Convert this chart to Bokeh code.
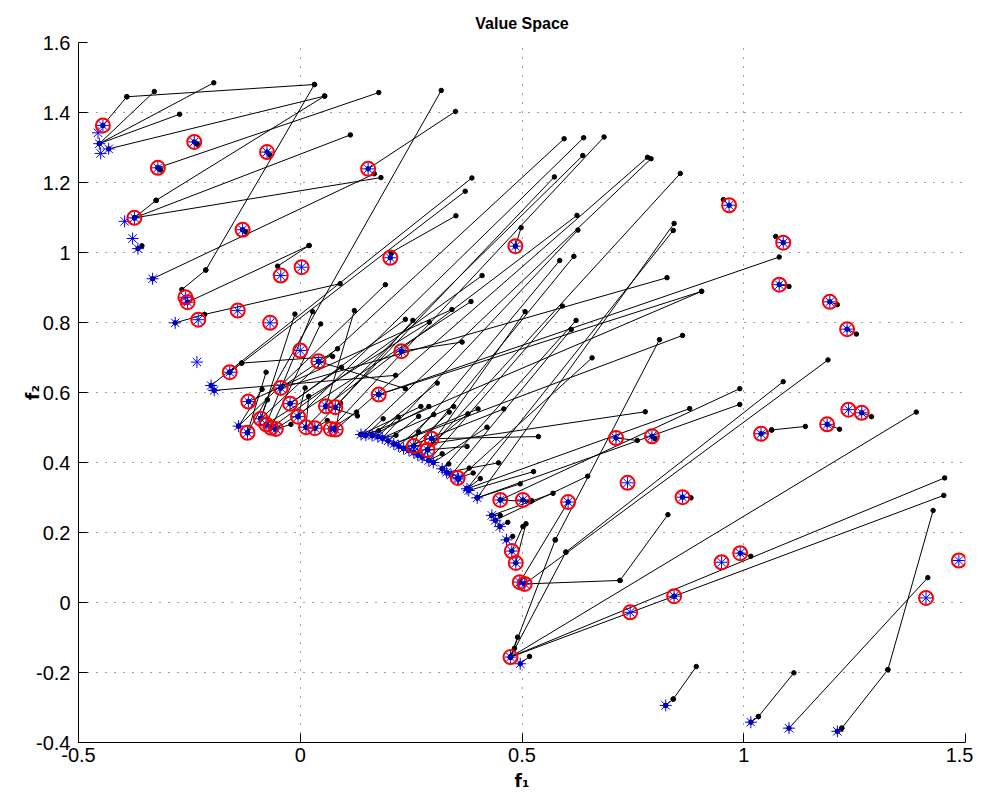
from bokeh.plotting import figure
from bokeh.models import Range1d, FixedTicker
from bokeh.embed import file_html
from bokeh.resources import INLINE

# ---------------- data ----------------
x_ticks = [-0.5, 0, 0.5, 1, 1.5]
x_tick_labels = ["-0.5", "0", "0.5", "1", "1.5"]
y_ticks = [-0.4, -0.2, 0, 0.2, 0.4, 0.6, 0.8, 1.0, 1.2, 1.4, 1.6]
y_tick_labels = ["-0.4", "-0.2", "0", "0.2", "0.4", "0.6", "0.8", "1", "1.2", "1.4", "1.6"]

# moves: previous position (black dot) -> new position
seg = [
    (-0.391, 1.445, -0.445, 1.363), (0.032, 1.480, -0.391, 1.445),
    (-0.329, 1.460, -0.453, 1.311), (-0.195, 1.485, -0.453, 1.311),
    (-0.272, 1.395, -0.453, 1.311), (0.055, 1.447, -0.432, 1.296),
    (0.177, 1.457, -0.321, 1.242), (0.032, 1.480, -0.213, 0.950),
    (-0.213, 0.950, -0.267, 0.894), (0.113, 1.336, -0.374, 1.099),
    (0.182, 1.214, -0.374, 1.099), (0.055, 1.447, -0.325, 1.149),
    (-0.325, 1.149, -0.374, 1.099), (0.167, 1.225, -0.333, 0.925),
    (0.350, 1.403, 0.153, 1.239), (0.318, 1.463, -0.119, 0.485),
    (0.020, 1.020, -0.051, 0.961), (0.020, 1.020, -0.254, 0.858),
    (0.090, 0.911, -0.216, 0.823), (-0.216, 0.823, -0.282, 0.799),
    (0.205, 1.000, 0.203, 0.985), (0.351, 1.105, 0.205, 1.000),
    (0.498, 1.071, 0.485, 1.018), (-0.357, 1.019, -0.366, 1.011),
    (-0.232, 1.309, -0.239, 1.316), (-0.068, 1.278, -0.075, 1.287),
    (-0.124, 1.060, -0.130, 1.065), (-0.315, 1.236, -0.321, 1.242),
    (0.954, 1.151, 0.967, 1.135), (1.072, 1.046, 1.089, 1.028),
    (1.102, 0.903, 1.080, 0.908), (1.211, 0.851, 1.194, 0.859),
    (1.254, 0.767, 1.233, 0.781), (1.288, 0.531, 1.266, 0.542),
    (1.216, 0.495, 1.188, 0.509), (1.063, 0.493, 1.039, 0.482),
    (1.139, 0.503, 1.063, 0.493), (0.881, 0.299, 0.862, 0.301),
    (1.016, 0.132, 0.992, 0.141), (1.427, 0.263, 1.325, -0.192),
    (1.325, -0.192, 1.221, -0.359), (1.221, -0.359, 1.211, -0.368),
    (1.415, 0.071, 1.102, -0.359), (0.893, -0.183, 0.841, -0.276),
    (0.841, -0.276, 0.824, -0.294), (1.113, -0.201, 1.033, -0.326),
    (1.033, -0.326, 1.016, -0.342),
    (1.389, 0.544, 0.474, -0.156), (1.453, 0.356, 0.474, -0.156),
    (0.843, 0.018, 0.474, -0.156), (1.451, 0.306, 0.843, 0.018),
    (0.599, 0.144, 0.474, -0.156), (1.089, 0.631, 0.599, 0.144),
    (0.810, 0.751, 0.575, 0.179), (0.575, 0.179, 0.474, -0.156),
    (0.490, -0.099, 0.474, -0.156), (0.483, -0.131, 0.474, -0.156),
    (0.517, -0.154, 0.496, -0.175), (0.721, 0.063, 0.506, 0.053),
    (0.829, 0.251, 0.721, 0.063), (1.190, 0.693, 0.506, 0.053),
    (1.080, 0.987, 0.177, 0.594), (0.905, 0.889, 0.177, 0.594),
    (0.905, 0.889, 0.148, 0.478), (0.862, 0.763, 0.211, 0.453),
    (0.827, 0.928, -0.044, 0.613), (0.857, 1.226, 0.287, 0.436),
    (0.843, 1.083, 0.399, 0.299), (0.841, 1.063, 0.376, 0.325),
    (0.991, 0.611, 0.451, 0.293), (0.991, 0.566, 0.399, 0.299),
    (0.878, 0.554, 0.376, 0.325), (0.778, 0.545, 0.256, 0.447),
    (0.760, 0.463, 0.712, 0.470), (0.800, 0.468, 0.793, 0.475),
    (0.537, 0.474, 0.296, 0.468), (0.604, 0.287, 0.495, 0.058),
    (0.595, 1.325, -0.089, 0.525), (0.639, 1.328, -0.005, 0.531),
    (0.685, 1.330, 0.069, 0.496), (0.637, 1.277, 0.013, 0.501),
    (0.573, 1.216, 0.033, 0.498), (0.783, 1.272, 0.080, 0.494),
    (0.791, 1.268, 0.137, 0.480), (0.624, 1.106, 0.058, 0.561),
    (0.626, 1.064, 0.185, 0.470), (0.585, 0.977, 0.233, 0.440),
    (0.617, 0.989, 0.256, 0.429), (0.410, 0.934, -0.066, 0.499),
    (0.387, 1.213, -0.201, 0.620), (0.372, 1.175, -0.159, 0.658),
    (0.192, 0.908, -0.139, 0.504), (0.385, 0.860, -0.055, 0.496),
    (0.342, 0.837, -0.117, 0.574), (0.507, 0.831, 0.275, 0.415),
    (0.591, 0.847, 0.290, 0.406), (0.237, 0.809, -0.023, 0.568),
    (0.254, 0.806, 0.079, 0.558), (0.291, 0.801, -0.077, 0.509),
    (0.622, 0.806, 0.320, 0.382), (0.611, 0.780, 0.340, 0.364),
    (0.365, 0.744, 0.228, 0.718), (0.658, 0.699, 0.357, 0.353),
    (0.215, 0.649, -0.194, 0.606), (0.309, 0.627, 0.162, 0.477),
    (0.237, 0.611, 0.041, 0.689), (-0.012, 0.824, -0.089, 0.525),
    (0.028, 0.831, -0.077, 0.509), (0.046, 0.796, -0.066, 0.499),
    (0.122, 0.834, 0.058, 0.561), (0.084, 0.725, -0.044, 0.613),
    (0.073, 0.703, -0.132, 0.684), (-0.132, 0.684, -0.159, 0.658),
    (0.093, 0.672, -0.023, 0.568), (-0.077, 0.658, -0.119, 0.485),
    (-0.086, 0.609, -0.139, 0.504), (-0.074, 0.579, -0.089, 0.525),
    (0.011, 0.613, -0.005, 0.531), (0.019, 0.589, 0.013, 0.501),
    (0.091, 0.569, 0.080, 0.494), (0.127, 0.544, 0.069, 0.496),
    (0.129, 0.533, 0.058, 0.561), (0.061, 0.520, 0.033, 0.498),
    (-0.021, 0.509, -0.055, 0.496), (0.272, 0.560, 0.137, 0.480),
    (0.290, 0.560, 0.162, 0.477), (0.346, 0.560, 0.185, 0.470),
    (0.401, 0.553, 0.211, 0.453), (0.459, 0.553, 0.233, 0.440),
    (0.187, 0.525, 0.148, 0.478), (0.221, 0.530, 0.175, 0.474),
    (0.267, 0.532, 0.198, 0.462), (0.301, 0.537, 0.222, 0.447),
    (0.336, 0.544, 0.245, 0.435), (0.378, 0.539, 0.265, 0.422),
    (0.421, 0.501, 0.300, 0.400), (0.177, 0.491, 0.137, 0.480),
    (0.216, 0.478, 0.185, 0.470), (0.267, 0.487, 0.256, 0.447),
    (0.320, 0.425, 0.290, 0.406), (0.376, 0.446, 0.287, 0.436),
    (0.335, 0.396, 0.320, 0.382), (0.447, 0.399, 0.330, 0.372),
    (0.381, 0.384, 0.357, 0.353), (0.526, 0.374, 0.380, 0.320),
    (0.496, 0.339, 0.399, 0.299), (0.570, 0.312, 0.432, 0.249),
    (0.648, 0.361, 0.440, 0.235), (0.406, 0.354, 0.376, 0.325),
    (0.522, 0.291, 0.502, 0.293), (0.468, 0.229, 0.450, 0.217),
    (0.479, 0.189, 0.465, 0.179), (0.502, 0.217, 0.477, 0.147),
    (0.509, 0.225, 0.486, 0.113), (0.519, 0.288, 0.451, 0.293),
    (0.451, 0.249, 0.432, 0.249), (0.390, 0.370, 0.355, 0.356),
]
seg_x0 = [s[0] for s in seg]
seg_y0 = [s[1] for s in seg]
seg_x1 = [s[2] for s in seg]
seg_y1 = [s[3] for s in seg]

# new positions that are circled (selected)
ring_x = [-0.445, -0.321, -0.239, -0.075, 0.153, -0.374, -0.130, -0.044, 0.003, 0.203,
          0.485, -0.259, -0.254, -0.230, -0.141, -0.068, -0.159, 0.000, 0.041, -0.044,
          -0.023, -0.005, -0.117, 0.058, 0.079, -0.089, -0.077, -0.066, -0.055, -0.119,
          0.013, 0.033, 0.069, 0.080, 0.228, 0.177, 0.296, 0.256, 0.287, 0.355,
          0.451, 0.502, 0.604, 0.712, 0.793, 0.738, 0.477, 0.486, 0.495, 0.506,
          0.474, 0.744, 0.843, 0.950, 0.992, 0.862, 1.039, 1.188, 1.236, 1.266,
          1.233, 1.194, 1.080, 1.089, 0.967, 1.411, 1.485]
ring_y = [1.363, 1.242, 1.316, 1.287, 1.239, 1.099, 1.065, 0.934, 0.958, 0.985,
          1.018, 0.872, 0.858, 0.808, 0.834, 0.799, 0.658, 0.720, 0.689, 0.613,
          0.568, 0.531, 0.574, 0.561, 0.558, 0.525, 0.509, 0.499, 0.496, 0.485,
          0.501, 0.498, 0.496, 0.494, 0.718, 0.594, 0.468, 0.447, 0.436, 0.356,
          0.293, 0.293, 0.287, 0.470, 0.475, 0.342, 0.147, 0.113, 0.058, 0.053,
          -0.156, -0.028, 0.018, 0.115, 0.141, 0.301, 0.482, 0.509, 0.551, 0.542,
          0.781, 0.859, 0.908, 1.028, 1.135, 0.013, 0.120]

# new positions that are not circled
star_x = [-0.456, -0.453, -0.450, -0.432, -0.396, -0.378, -0.366, -0.333, -0.282, -0.233,
          -0.201, -0.194, -0.139, 0.137, 0.148, 0.162, 0.175, 0.185, 0.198, 0.211,
          0.222, 0.233, 0.245, 0.256, 0.265, 0.275, 0.290, 0.300, 0.320, 0.330,
          0.340, 0.357, 0.376, 0.380, 0.399, 0.432, 0.440, 0.450, 0.465, 0.496,
          0.824, 1.016, 1.102, 1.211]
star_y = [1.342, 1.311, 1.283, 1.296, 1.089, 1.040, 1.011, 0.925, 0.799, 0.687,
          0.620, 0.606, 0.504, 0.480, 0.478, 0.477, 0.474, 0.470, 0.462, 0.453,
          0.447, 0.440, 0.435, 0.429, 0.422, 0.415, 0.406, 0.400, 0.382, 0.372,
          0.364, 0.353, 0.325, 0.320, 0.299, 0.249, 0.235, 0.217, 0.179, -0.175,
          -0.294, -0.342, -0.359, -0.368]

# ---------------- figure ----------------
p = figure(width=973, height=798, output_backend="svg", toolbar_location=None,
           x_range=Range1d(-0.5, 1.5), y_range=Range1d(-0.4, 1.6),
           min_border_left=78, min_border_right=8, min_border_top=42, min_border_bottom=56,
           title="Value Space")
p.title.align = "center"
p.title.text_font = "Liberation Sans"
p.title.text_font_size = "16px"
p.title.text_font_style = "bold"
p.title.text_color = "black"
p.title.standoff = 22
p.outline_line_color = None
p.background_fill_color = "white"
p.border_fill_color = "white"

p.xaxis.ticker = FixedTicker(ticks=x_ticks)
p.yaxis.ticker = FixedTicker(ticks=y_ticks)
p.xaxis.major_label_overrides = dict(zip(x_ticks, x_tick_labels))
p.yaxis.major_label_overrides = dict(zip(y_ticks, y_tick_labels))
for ax in (p.xaxis, p.yaxis):
    ax.major_tick_in = 9
    ax.major_tick_out = 0
    ax.minor_tick_in = 0
    ax.minor_tick_out = 0
    ax.axis_line_color = "black"
    ax.major_tick_line_color = "black"
    ax.major_label_text_font = "Liberation Sans"
    ax.major_label_text_font_size = "20px"
    ax.major_label_text_color = "black"
    ax.axis_label_text_font = "DejaVu Sans"
    ax.axis_label_text_font_style = "bold"
    ax.axis_label_text_font_size = "17px"
    ax.axis_label_text_color = "black"
p.xaxis.major_label_standoff = 5
p.yaxis.major_label_standoff = 8
p.xaxis.axis_label = "f\u2081"
p.yaxis.axis_label = "f\u2082"
p.xaxis.axis_label_standoff = 6
p.yaxis.axis_label_standoff = -10

p.xgrid.ticker = FixedTicker(ticks=x_ticks)
p.ygrid.ticker = FixedTicker(ticks=y_ticks)
for g in (p.xgrid, p.ygrid):
    g.grid_line_color = "#444444"
    g.grid_line_dash = "1 8"
    g.grid_line_width = 1

p.segment(seg_x0, seg_y0, seg_x1, seg_y1, line_color="black", line_width=1)
p.scatter(seg_x0 + seg_x1, seg_y0 + seg_y1, marker="circle", size=4.5,
          fill_color="black", line_color="black")
p.scatter(star_x + ring_x, star_y + ring_y, marker="asterisk", size=12,
          line_color="#0000ff", line_width=1)
p.scatter(ring_x, ring_y, marker="circle", size=14, fill_color=None,
          line_color="#ff0000", line_width=2)

open("out.html", "w").write(file_html(p, INLINE))
